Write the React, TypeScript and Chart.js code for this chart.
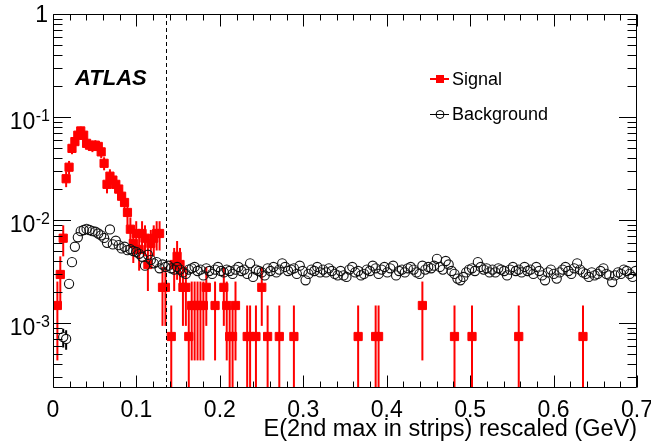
import React, { useEffect, useRef } from "react";
import { Chart, registerables } from "chart.js";

Chart.register(...registerables);

// ---------- data ----------
const X_MIN = 0;
const X_MAX = 0.7;
const N_BINS = 200;
const Y_MIN = 2.34e-4;
const Y_MAX = 1;
const SIGNAL_EVENT_WEIGHT = 7.4e-4; // normalised weight of one signal event

// signal histogram: events per bin (200 bins from 0 to 0.7)
const signalCounts = [
  0, 2, 4, 9, 34, 44, 67, 78, 90, 99,
  90, 75, 72, 70, 72, 70, 62, 48, 30, 36,
  33, 30, 27, 23, 20, 16, 11, 8, 10, 7,
  10, 9, 5, 8, 9, 10, 10, 3, 3, 0,
  1, 5, 6, 5, 3, 3, 1, 2, 2, 2,
  2, 2, 3, 0, 0, 2, 0, 0, 3, 2,
  1, 1, 2, 0, 0, 0, 1, 1, 0, 1,
  0, 3, 0, 1, 0, 0, 0, 1, 0, 0,
  0, 0, 1, 0, 0, 0, 0, 0, 0, 0,
  0, 0, 0, 0, 0, 0, 0, 0, 0, 0,
  0, 0, 0, 0, 1, 0, 0, 0, 0, 0,
  1, 1, 0, 0, 0, 0, 0, 0, 0, 0,
  0, 0, 0, 0, 0, 0, 2, 0, 0, 0,
  0, 0, 0, 0, 0, 0, 0, 1, 0, 0,
  0, 0, 0, 1, 0, 0, 0, 0, 0, 0,
  0, 0, 0, 0, 0, 0, 0, 0, 0, 1,
  0, 0, 0, 0, 0, 0, 0, 0, 0, 0,
  0, 0, 0, 0, 0, 0, 0, 0, 0, 0,
  0, 1, 0, 0, 0, 0, 0, 0, 0, 0,
  0, 0, 0, 0, 0, 0, 0, 0, 0, 0,
];

// background histogram: normalised value per bin
const backgroundValues = [
  0, 0, 0, 0.00073, 0.0007, 0.0024, 0.0039, 0.0055, 0.0068, 0.0078,
  0.008, 0.0082, 0.008, 0.0078, 0.0077, 0.0074, 0.0071, 0.0067, 0.006, 0.0081,
  0.0058, 0.0063, 0.0057, 0.0053, 0.0055, 0.0051, 0.0052, 0.005, 0.0049, 0.0047,
  0.0044, 0.0036, 0.0046, 0.0041, 0.0038, 0.0039, 0.0034, 0.0037, 0.0035, 0.0036,
  0.0034, 0.0033, 0.0035, 0.0033, 0.0031, 0.003, 0.0033, 0.0034, 0.0035, 0.0032,
  0.0033, 0.0029, 0.0034, 0.0032, 0.003, 0.0033, 0.0035, 0.0032, 0.0031, 0.0033,
  0.0032, 0.003, 0.0033, 0.0035, 0.0032, 0.0033, 0.003, 0.0038, 0.0028, 0.0033,
  0.0032, 0.0031, 0.0029, 0.0034, 0.0032, 0.0035, 0.0031, 0.0033, 0.0038, 0.0035,
  0.0032, 0.0033, 0.0034, 0.003, 0.0036, 0.0032, 0.0026, 0.003, 0.0033, 0.0032,
  0.0035, 0.0031, 0.0033, 0.0031, 0.0034, 0.0032, 0.003, 0.0029, 0.0032, 0.0029,
  0.0028, 0.0033, 0.0035, 0.0031, 0.0032, 0.0029, 0.003, 0.0033, 0.0032, 0.0036,
  0.0034, 0.003, 0.0033, 0.0035, 0.0031, 0.0034, 0.0036, 0.0029, 0.0032, 0.0033,
  0.0031, 0.0034, 0.0035, 0.0033, 0.0031, 0.003, 0.0036, 0.0033, 0.0035, 0.0034,
  0.0036, 0.0042, 0.0035, 0.0033, 0.004, 0.0037, 0.0032, 0.003, 0.0027, 0.0026,
  0.0028, 0.0031, 0.0033, 0.0034, 0.0032, 0.0039, 0.0035, 0.0033, 0.0034, 0.0031,
  0.0033, 0.0031, 0.0034, 0.0033, 0.0032, 0.0029, 0.0033, 0.0035, 0.0032, 0.0033,
  0.0031, 0.0035, 0.0032, 0.0033, 0.003, 0.0035, 0.0032, 0.0029, 0.0026, 0.0031,
  0.0033, 0.003, 0.0027, 0.0031, 0.0033, 0.0035, 0.0032, 0.003, 0.0034, 0.0038,
  0.0033, 0.0031, 0.003, 0.0028, 0.0031, 0.0029, 0.003, 0.0032, 0.0034, 0.003,
  0.0029, 0.0025, 0.0029, 0.0031, 0.003, 0.0033, 0.0032, 0.003, 0.0028, 0.0032,
];

// background bins whose error bars stick out of the marker
const backgroundErrorBins = [3, 4];
const backgroundErrors = [0.00015, 0.00015];

const cutValue = 0.135;

const xTickValues = [0, 0.1, 0.2, 0.3, 0.4, 0.5, 0.6, 0.7];
const xTickLabels = ["0", "0.1", "0.2", "0.3", "0.4", "0.5", "0.6", "0.7"];
const xMinorStep = 0.02;
const yDecadeValues = [1, 0.1, 0.01, 0.001];
const yDecadeExponents = ["", "-1", "-2", "-3"];

const legendLabels = ["Signal", "Background"];
const experimentLabel = "ATLAS";
const xAxisTitle = "E(2nd max in strips) rescaled (GeV)";

// ---------- style ----------
const FONT = "'Liberation Sans', Arial, Helvetica, sans-serif";
const SIGNAL_COLOR = "#ff0000";
const BG_COLOR = "#111111";

const binCenter = (k: number) => X_MIN + ((k + 0.5) * (X_MAX - X_MIN)) / N_BINS;

const decorPlugin = {
  id: "decor",
  beforeDatasetsDraw(chart: any) {
    const { ctx, chartArea: a, scales } = chart;
    const x = scales.x;
    const y = scales.y;
    ctx.save();
    ctx.beginPath();
    ctx.rect(a.left, a.top, a.right - a.left, a.bottom - a.top);
    ctx.clip();
    // signal error bars
    ctx.strokeStyle = SIGNAL_COLOR;
    ctx.lineWidth = 2;
    signalCounts.forEach((n, k) => {
      if (!n) return;
      const v = n * SIGNAL_EVENT_WEIGHT;
      const e = Math.sqrt(n) * SIGNAL_EVENT_WEIGHT;
      const px = x.getPixelForValue(binCenter(k));
      const lo = v - e > 0 ? y.getPixelForValue(v - e) : a.bottom + 5;
      const hi = y.getPixelForValue(v + e);
      ctx.beginPath();
      ctx.moveTo(px, lo);
      ctx.lineTo(px, hi);
      ctx.stroke();
    });
    // background error bars (outside the open marker)
    ctx.strokeStyle = "#000";
    ctx.lineWidth = 2;
    const r = 4.8;
    backgroundErrorBins.forEach((k, i) => {
      const v = backgroundValues[k];
      const e = backgroundErrors[i];
      const px = x.getPixelForValue(binCenter(k));
      const pc = y.getPixelForValue(v);
      const hi = y.getPixelForValue(v + e);
      const lo = y.getPixelForValue(v - e);
      ctx.beginPath();
      ctx.moveTo(px, hi);
      ctx.lineTo(px, pc - r);
      ctx.moveTo(px, pc + r);
      ctx.lineTo(px, lo);
      ctx.stroke();
    });
    ctx.restore();
  },
  afterDatasetsDraw(chart: any) {
    const { ctx, chartArea: a, scales } = chart;
    const px = Math.round(scales.x.getPixelForValue(cutValue)) + 0.5;
    ctx.save();
    ctx.strokeStyle = "#000";
    ctx.lineWidth = 1;
    ctx.setLineDash([4, 3]);
    ctx.beginPath();
    ctx.moveTo(px, a.top);
    ctx.lineTo(px, a.bottom);
    ctx.stroke();
    ctx.restore();
  },
  afterDraw(chart: any) {
    const { ctx, chartArea: a, scales } = chart;
    const x = scales.x;
    const y = scales.y;
    ctx.save();
    ctx.strokeStyle = "#000";
    ctx.fillStyle = "#000";
    ctx.lineWidth = 1;
    // frame
    const L = Math.round(a.left) + 0.5;
    const R = Math.round(a.right) - 0.5;
    const T = Math.round(a.top) + 0.5;
    const B = Math.round(a.bottom) - 0.5;
    ctx.beginPath();
    ctx.rect(L, T, R - L, B - T);
    ctx.stroke();
    // x ticks (bottom and top)
    ctx.beginPath();
    const nMinor = Math.round((X_MAX - X_MIN) / xMinorStep);
    for (let i = 0; i <= nMinor; i++) {
      const v = X_MIN + i * xMinorStep;
      const isMajor = xTickValues.some((t) => Math.abs(t - v) < 1e-9);
      const len = isMajor ? 12 : 6;
      const p = Math.round(x.getPixelForValue(v)) + 0.5;
      ctx.moveTo(p, B);
      ctx.lineTo(p, B - len);
      ctx.moveTo(p, T);
      ctx.lineTo(p, T + len);
    }
    // y ticks (left and right)
    for (let e = -4; e <= 0; e++) {
      for (let m = 1; m <= 9; m++) {
        const v = m * Math.pow(10, e);
        if (v < Y_MIN || v > Y_MAX * 1.0001) continue;
        const len = m === 1 ? 17.5 : 9;
        const p = Math.round(y.getPixelForValue(v)) + 0.5;
        ctx.moveTo(L, p);
        ctx.lineTo(L + len, p);
        ctx.moveTo(R, p);
        ctx.lineTo(R - len, p);
      }
    }
    ctx.stroke();
    // x tick labels
    ctx.font = `23px ${FONT}`;
    ctx.textAlign = "center";
    ctx.textBaseline = "alphabetic";
    xTickValues.forEach((v, i) => {
      ctx.fillText(xTickLabels[i], x.getPixelForValue(v), a.bottom + 29);
    });
    // y tick labels
    const labelRight = a.left - 3;
    yDecadeValues.forEach((v, i) => {
      const p = y.getPixelForValue(v);
      const ex = yDecadeExponents[i];
      if (!ex) {
        ctx.font = `23px ${FONT}`;
        ctx.textAlign = "right";
        ctx.fillText("1", labelRight - 2, p + 8);
        return;
      }
      ctx.font = `16px ${FONT}`;
      const ew = ctx.measureText(ex).width;
      ctx.textAlign = "left";
      ctx.fillText(ex, labelRight - ew, p + 4);
      ctx.font = `23px ${FONT}`;
      ctx.textAlign = "right";
      ctx.fillText("10", labelRight - ew - 0.5, p + 12);
    });
    // axis title
    ctx.font = `23.5px ${FONT}`;
    ctx.textAlign = "right";
    ctx.fillText(xAxisTitle, a.right, a.bottom + 48);
    // ATLAS label
    ctx.font = `italic bold 22px ${FONT}`;
    ctx.textAlign = "left";
    ctx.fillText(experimentLabel, 75, 85);
    // legend
    const lx0 = 430;
    const lx1 = 449;
    const lmx = 440;
    const rows = [79, 114];
    // signal entry
    ctx.strokeStyle = SIGNAL_COLOR;
    ctx.fillStyle = SIGNAL_COLOR;
    ctx.lineWidth = 2;
    ctx.beginPath();
    ctx.moveTo(lx0, rows[0]);
    ctx.lineTo(lx1, rows[0]);
    ctx.stroke();
    ctx.fillRect(lmx - 4, rows[0] - 4, 8, 8);
    // background entry
    ctx.strokeStyle = "#000";
    ctx.lineWidth = 1;
    ctx.beginPath();
    ctx.moveTo(lx0, rows[1] + 0.5);
    ctx.lineTo(lx1, rows[1] + 0.5);
    ctx.stroke();
    ctx.beginPath();
    ctx.arc(lmx, rows[1] + 0.5, 4, 0, Math.PI * 2);
    ctx.stroke();
    ctx.fillStyle = "#000";
    ctx.font = `18px ${FONT}`;
    ctx.textAlign = "left";
    ctx.fillText(legendLabels[0], 452, rows[0] + 5.5);
    ctx.fillText(legendLabels[1], 452, rows[1] + 5.5);
    ctx.restore();
  },
};

export default function App() {
  const canvasRef = useRef<HTMLCanvasElement | null>(null);

  useEffect(() => {
    if (!canvasRef.current) return;
    const signalData = signalCounts
      .map((n, k) => ({ x: binCenter(k), y: n * SIGNAL_EVENT_WEIGHT, n }))
      .filter((d) => d.n > 0)
      .map((d) => ({ x: d.x, y: d.y }));
    const backgroundData = backgroundValues
      .map((v, k) => ({ x: binCenter(k), y: v }))
      .filter((d) => d.y > 0);

    const chart = new Chart(canvasRef.current, {
      type: "scatter",
      data: {
        datasets: [
          {
            label: legendLabels[1],
            data: backgroundData,
            pointStyle: "circle",
            pointRadius: 4.6,
            pointBorderWidth: 1.1,
            pointBorderColor: BG_COLOR,
            pointBackgroundColor: "rgba(0,0,0,0)",
            order: 1,
          },
          {
            label: legendLabels[0],
            data: signalData,
            pointStyle: "rect",
            pointRadius: 5.8,
            pointBorderWidth: 1,
            pointBorderColor: SIGNAL_COLOR,
            pointBackgroundColor: SIGNAL_COLOR,
            order: 2,
          },
        ],
      },
      options: {
        animation: false,
        responsive: false,
        maintainAspectRatio: false,
        events: [],
        layout: { padding: { left: 53, right: 14, top: 14, bottom: 55 } },
        plugins: {
          legend: { display: false },
          tooltip: { enabled: false },
        },
        scales: {
          x: { type: "linear", min: X_MIN, max: X_MAX, display: false },
          y: { type: "logarithmic", min: Y_MIN, max: Y_MAX, display: false },
        },
      },
      plugins: [decorPlugin],
    });
    return () => chart.destroy();
  }, []);

  return (
    <div style={{ position: "fixed", left: 0, top: 0, width: 651, height: 443, background: "#fff" }}>
      <canvas ref={canvasRef} width={651} height={443} style={{ width: 651, height: 443 }} />
    </div>
  );
}
